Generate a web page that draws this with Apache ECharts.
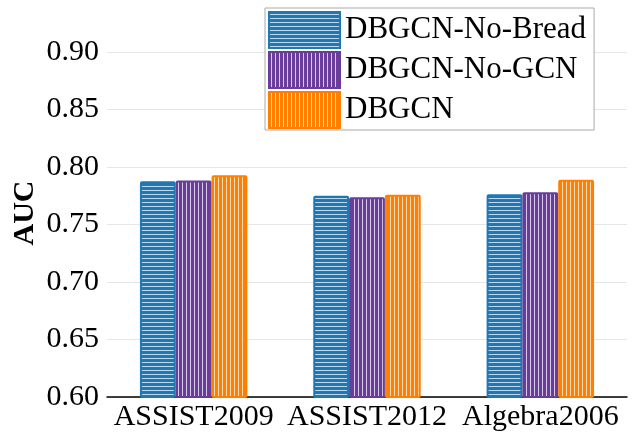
<!DOCTYPE html>
<html>
<head>
<meta charset="utf-8">
<script src="https://cdn.jsdelivr.net/npm/echarts@6/dist/echarts.min.js"></script>
<style>
  html, body { margin: 0; padding: 0; background: #fff; }
  #chart { width: 632px; height: 437px; }
</style>
</head>
<body>
<div id="chart"></div>
<script>
// Datasets and model variants
const categories = ['ASSIST2009', 'ASSIST2012', 'Algebra2006'];
const seriesNames = ['DBGCN-No-Bread', 'DBGCN-No-GCN', 'DBGCN'];
const noBread = [0.7877, 0.7750, 0.7764];
const noGCN   = [0.7883, 0.7737, 0.7781];
const dbgcn   = [0.7929, 0.7758, 0.7889];
const yTicks = [0.60, 0.65, 0.70, 0.75, 0.80, 0.85, 0.90];
const yTitle = 'AUC';

const FONT = '"Liberation Serif", "Times New Roman", serif';

// Hatched fill: base colour with thin light stripes
function hatch(base, horizontal) {
  const c = document.createElement('canvas');
  c.width = 4; c.height = 4;
  const g = c.getContext('2d');
  g.fillStyle = base;
  g.fillRect(0, 0, 4, 4);
  g.fillStyle = 'rgba(255,255,255,0.72)';
  if (horizontal) g.fillRect(0, 2, 4, 1);
  else g.fillRect(2, 0, 1, 4);
  return { image: c, repeat: 'repeat' };
}

const palette = [
  { base: '#1f77b4', horizontal: true },
  { base: '#6a3d9a', horizontal: false },
  { base: '#ff7f00', horizontal: false }
];
const values = [noBread, noGCN, dbgcn];

const chart = echarts.init(document.getElementById('chart'), null, { renderer: 'canvas' });

chart.setOption({
  animation: false,
  backgroundColor: '#ffffff',
  grid: { left: 107, right: 5, top: 52, bottom: 40, containLabel: false, outerBoundsMode: 'none' },
  // Rotated y-axis title
  graphic: [{
    type: 'text',
    x: 25, y: 213,
    rotation: Math.PI / 2,
    style: {
      text: yTitle,
      font: 'bold 30px ' + FONT,
      fill: '#000',
      align: 'center',
      verticalAlign: 'middle'
    }
  }],
  legend: {
    orient: 'vertical',
    left: 265, top: 8,
    padding: [3, 8, 1, 3],
    itemWidth: 71, itemHeight: 36, itemGap: 2,
    icon: 'rect',
    borderColor: '#aaaaaa', borderWidth: 1, backgroundColor: '#ffffff',
    textStyle: { fontFamily: FONT, fontSize: 31, color: '#000' },
    data: seriesNames
  },
  xAxis: {
    type: 'category',
    data: categories,
    axisLine: { lineStyle: { color: '#000', width: 1.5 } },
    axisTick: { show: false },
    axisLabel: { fontFamily: FONT, fontSize: 30, color: '#000', margin: 5, interval: 0, hideOverlap: false }
  },
  yAxis: {
    type: 'value',
    min: yTicks[0], max: yTicks[yTicks.length - 1], interval: 0.05,
    axisLine: { show: false },
    axisTick: { show: false },
    axisLabel: {
      fontFamily: FONT, fontSize: 30, color: '#000', margin: 8,
      formatter: v => v.toFixed(2)
    },
    splitLine: { lineStyle: { color: '#e6e6e6', width: 1 } }
  },
  series: seriesNames.map((name, i) => ({
    name,
    type: 'bar',
    data: values[i],
    barGap: '0%',
    barCategoryGap: '38%',
    itemStyle: {
      color: hatch(palette[i].base, palette[i].horizontal),
      borderColor: palette[i].base,
      borderWidth: 2,
      borderRadius: 1
    }
  }))
});
</script>
</body>
</html>
